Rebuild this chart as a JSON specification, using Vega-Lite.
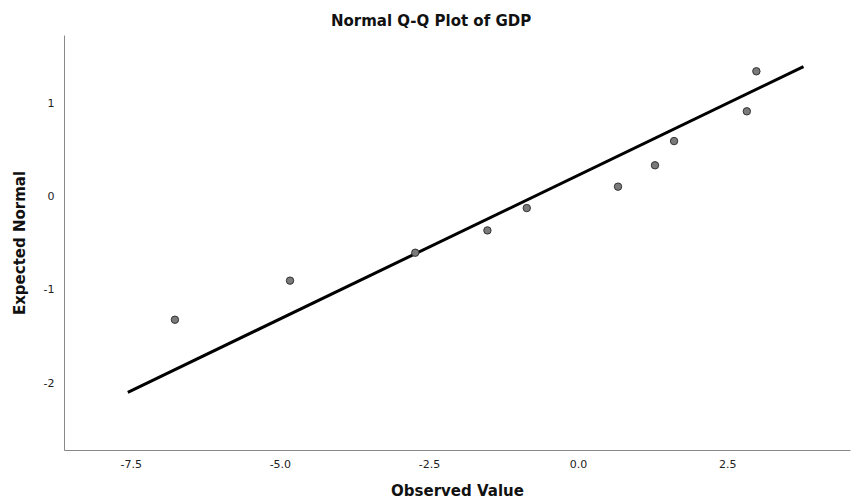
{
  "$schema": "https://vega.github.io/schema/vega-lite/v6.json",
  "width": 786,
  "height": 415,
  "autosize": {"type": "none"},
  "padding": {"left": 64, "top": 35, "right": 1, "bottom": 52},
  "background": "white",
  "config": {
    "view": {"stroke": null},
    "font": "DejaVu Sans"
  },
  "title": {
    "text": "Normal Q-Q Plot of GDP",
    "fontSize": 15,
    "fontWeight": "bold",
    "font": "DejaVu Sans",
    "color": "#111",
    "anchor": "middle",
    "frame": "bounds",
    "offset": 6
  },
  "datasets": {
    "points": [
      {"observed": -6.76, "expected": -1.32},
      {"observed": -4.83, "expected": -0.90},
      {"observed": -2.73, "expected": -0.60},
      {"observed": -1.52, "expected": -0.36},
      {"observed": -0.86, "expected": -0.12},
      {"observed": 0.67, "expected": 0.11},
      {"observed": 1.29, "expected": 0.34},
      {"observed": 1.61, "expected": 0.60},
      {"observed": 2.83, "expected": 0.92},
      {"observed": 2.99, "expected": 1.35}
    ],
    "line": [
      {"observed": -7.55, "expected": -2.10},
      {"observed": 3.78, "expected": 1.40}
    ]
  },
  "layer": [
    {
      "data": {"name": "line"},
      "mark": {"type": "line", "color": "black", "strokeWidth": 3},
      "encoding": {
        "x": {"field": "observed", "type": "quantitative"},
        "y": {"field": "expected", "type": "quantitative"}
      }
    },
    {
      "data": {"name": "points"},
      "mark": {"type": "point", "filled": true, "fill": "#7a7a7a", "stroke": "#333", "strokeWidth": 1, "size": 55, "opacity": 1},
      "encoding": {
        "x": {
          "field": "observed", "type": "quantitative",
          "scale": {"domain": [-8.62, 4.56], "nice": false, "zero": false},
          "axis": {
            "title": "Observed Value",
            "values": [-7.5, -5.0, -2.5, 0.0, 2.5],
            "labelExpr": "replace(format(datum.value, '.1f'), '\u2212', '-')",
            "grid": false, "ticks": false,
            "domainColor": "#888", "domainWidth": 1,
            "labelFontSize": 11, "labelColor": "#222", "labelPadding": 8,
            "titleFontSize": 15, "titleFontWeight": "bold", "titleColor": "#111", "titlePadding": 14
          }
        },
        "y": {
          "field": "expected", "type": "quantitative",
          "scale": {"domain": [-2.72, 1.74], "nice": false, "zero": false},
          "axis": {
            "title": "Expected Normal",
            "values": [-2, -1, 0, 1],
            "labelExpr": "replace(format(datum.value, 'd'), '\u2212', '-')",
            "grid": false, "ticks": false,
            "domainColor": "#888", "domainWidth": 1,
            "labelFontSize": 11, "labelColor": "#222", "labelPadding": 10,
            "titleFontSize": 15, "titleFontWeight": "bold", "titleColor": "#111", "titlePadding": 16
          }
        }
      }
    }
  ]
}
